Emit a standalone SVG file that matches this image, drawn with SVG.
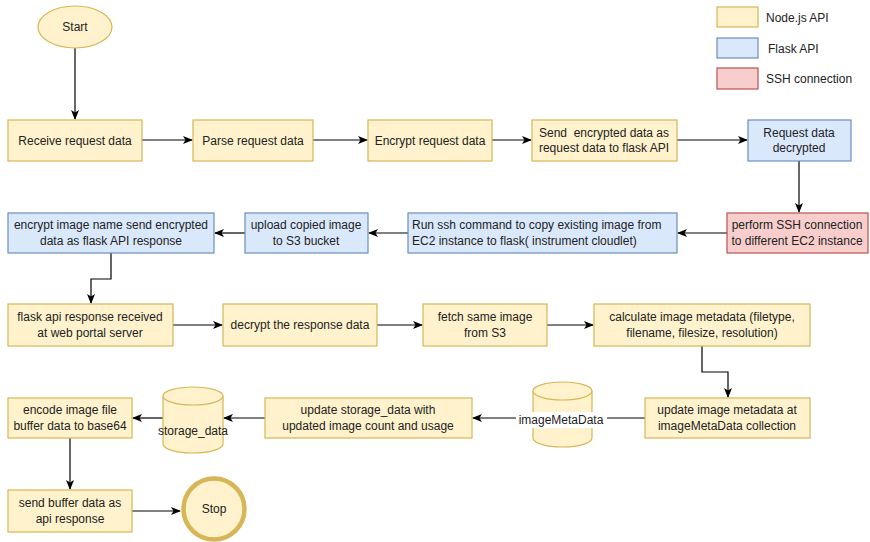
<svg xmlns="http://www.w3.org/2000/svg" width="870" height="542" viewBox="0 0 870 542">
<defs>
<marker id="arr" viewBox="0 0 10 10" refX="9" refY="5" markerWidth="10" markerHeight="10" markerUnits="userSpaceOnUse" orient="auto">
<path d="M0,1 L10,5 L0,9 L2.5,5 Z" fill="#000"/>
</marker>
<style>
.n{fill:#fff2cc;stroke:#d6b656;stroke-width:1.2}
.f{fill:#dae8fc;stroke:#6c8ebf;stroke-width:1.2}
.s{fill:#f8cecc;stroke:#b85450;stroke-width:1.2}
text{font-family:"Liberation Sans",Arial,sans-serif;font-size:12px;fill:#222}
.c{text-anchor:middle}
.e{fill:none;stroke:#000;stroke-width:1.2;marker-end:url(#arr)}
.l{fill:none;stroke:#000;stroke-width:1.2}
</style>
</defs>
<rect width="870" height="542" fill="#fff"/>
<g id="legend">
<rect class="n" x="717" y="7" width="41" height="20"/>
<text x="766" y="22">Node.js API</text>
<rect class="f" x="717" y="38" width="41" height="20"/>
<text x="768" y="53">Flask API</text>
<rect class="s" x="717" y="68" width="41" height="21"/>
<text x="766" y="83">SSH connection</text>
</g>
<g id="connectors">
<path class="e" d="M75,48 L75,119"/>
<path class="e" d="M142,140 L192,140"/>
<path class="e" d="M313,140 L367,140"/>
<path class="e" d="M492,140 L531,140"/>
<path class="e" d="M677,140 L747,140"/>
<path class="e" d="M799,161 L799,212"/>
<path class="e" d="M727,233 L678,233"/>
<path class="e" d="M408,233 L369,233"/>
<path class="e" d="M245,233 L215,233"/>
<path class="e" d="M111,253 L111,279 L91,279 L91,303"/>
<path class="e" d="M173,325 L222,325"/>
<path class="e" d="M377,325 L422,325"/>
<path class="e" d="M547,325 L593,325"/>
<path class="e" d="M702,346 L702,372 L728,372 L728,397"/>
<path class="l" d="M645,418 L592,418"/>
<path class="e" d="M533,418 L473,418"/>
<path class="e" d="M265,418 L224,418"/>
<path class="e" d="M163,418 L133,418"/>
<path class="e" d="M70,438 L70,489"/>
<path class="e" d="M132,511 L180,511"/>
</g>
<g id="start">
<ellipse class="n" cx="75" cy="27" rx="37" ry="21" stroke-width="2"/>
<text class="c" x="75" y="31">Start</text>
</g>
<g id="receive">
<rect class="n" x="8" y="120" width="134" height="41"/>
<text class="c" x="75" y="145">Receive request data</text>
</g>
<g id="parse">
<rect class="n" x="193" y="120" width="120" height="41"/>
<text class="c" x="253" y="145">Parse request data</text>
</g>
<g id="encrypt">
<rect class="n" x="368" y="120" width="124" height="41"/>
<text class="c" x="430" y="145">Encrypt request data</text>
</g>
<g id="send">
<rect class="n" x="532" y="120" width="145" height="41"/>
<text class="c" x="604" y="137" xml:space="preserve">Send  encrypted data as</text>
<text class="c" x="604" y="152">request data to flask API</text>
</g>
<g id="decrypted">
<rect class="f" x="748" y="120" width="103" height="41"/>
<text class="c" x="799" y="137">Request data</text>
<text class="c" x="799" y="152">decrypted</text>
</g>
<g id="ssh">
<rect class="s" x="727" y="213" width="141" height="40"/>
<text class="c" x="797" y="229">perform SSH connection</text>
<text class="c" x="797" y="245">to different EC2 instance</text>
</g>
<g id="runssh">
<rect class="f" x="408" y="213" width="269" height="40"/>
<text x="412" y="229">Run ssh command to copy existing image from</text>
<text x="412" y="245">EC2 instance to flask( instrument cloudlet)</text>
</g>
<g id="upload">
<rect class="f" x="245" y="213" width="123" height="40"/>
<text class="c" x="306" y="229">upload copied image</text>
<text class="c" x="306" y="245">to S3 bucket</text>
</g>
<g id="encname">
<rect class="f" x="8" y="213" width="206" height="40"/>
<text class="c" x="111" y="229">encrypt image name send encrypted</text>
<text class="c" x="111" y="245">data as flask API response</text>
</g>
<g id="received">
<rect class="n" x="8" y="304" width="165" height="42"/>
<text class="c" x="90" y="321">flask api response received</text>
<text class="c" x="90" y="337">at web portal server</text>
</g>
<g id="decryptresp">
<rect class="n" x="223" y="304" width="154" height="42"/>
<text class="c" x="300" y="329">decrypt the response data</text>
</g>
<g id="fetch">
<rect class="n" x="423" y="304" width="124" height="42"/>
<text class="c" x="485" y="321">fetch same image</text>
<text class="c" x="485" y="337">from S3</text>
</g>
<g id="calculate">
<rect class="n" x="594" y="304" width="216" height="42"/>
<text class="c" x="702" y="321">calculate image metadata (filetype,</text>
<text class="c" x="702" y="337">filename, filesize, resolution)</text>
</g>
<g id="updatemeta">
<rect class="n" x="645" y="398" width="165" height="40"/>
<text class="c" x="727" y="414">update image metadata at</text>
<text class="c" x="727" y="430">imageMetaData collection</text>
</g>
<g id="imageMetaData">
<path class="n" d="M533,391 A29.5,9 0 0 1 592,391 L592,438 A29.5,9 0 0 1 533,438 Z"/>
<path class="n" d="M533,391 A29.5,9 0 0 0 592,391" fill="none"/>
<rect x="516" y="412" width="91" height="16" fill="#fff"/>
<text class="c" x="561" y="424">imageMetaData</text>
</g>
<g id="updatestorage">
<rect class="n" x="265" y="398" width="207" height="40"/>
<text class="c" x="368" y="414">update storage_data with</text>
<text class="c" x="368" y="430">updated image count and usage</text>
</g>
<g id="storage_data">
<path class="n" d="M163,396 A30,9 0 0 1 223,396 L223,444 A30,9 0 0 1 163,444 Z"/>
<path class="n" d="M163,396 A30,9 0 0 0 223,396" fill="none"/>
<text class="c" x="193" y="435">storage_data</text>
</g>
<g id="encode">
<rect class="n" x="8" y="398" width="124" height="40"/>
<text class="c" x="70" y="414">encode image file</text>
<text class="c" x="70" y="430">buffer data to base64</text>
</g>
<g id="sendbuffer">
<rect class="n" x="8" y="490" width="124" height="42"/>
<text class="c" x="70" y="507">send buffer data as</text>
<text class="c" x="70" y="523">api response</text>
</g>
<g id="stop">
<circle cx="214" cy="509" r="30.5" fill="#fff2cc" stroke="#d6b656" stroke-width="4.5"/>
<text class="c" x="214" y="513">Stop</text>
</g>
</svg>
